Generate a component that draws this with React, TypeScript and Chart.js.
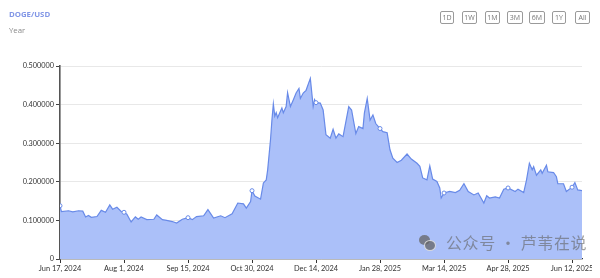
import React, { useEffect, useRef } from "react";
import { Chart, registerables } from "chart.js";

Chart.register(...registerables);

// Days since Jun 17, 2024
const days = [0, 1, 6, 9, 13, 16, 18, 20, 22, 26, 29, 32, 35, 37, 40, 43, 45, 47, 50, 53, 55, 57, 61, 66, 68, 72, 75, 79, 82, 86, 90, 93, 96, 101, 104, 108, 113, 116, 121, 125, 129, 131, 134, 135, 137, 141, 143, 145, 146, 148, 149, 150, 151, 152, 153, 156, 157, 159, 160, 162, 164, 166, 168, 169, 171, 173, 176, 178, 179, 180, 183, 185, 187, 190, 192, 194, 196, 199, 201, 203, 205, 208, 210, 213, 214, 216, 218, 220, 222, 225, 227, 230, 232, 234, 237, 240, 244, 247, 251, 253, 255, 258, 260, 262, 265, 267, 268, 270, 274, 278, 281, 284, 287, 291, 294, 298, 300, 302, 306, 309, 312, 315, 320, 322, 326, 328, 330, 332, 333, 335, 338, 339, 342, 343, 347, 349, 350, 354, 356, 360, 362, 364, 367];

const prices = [0.138, 0.123, 0.125, 0.122, 0.125, 0.124, 0.109, 0.113, 0.108, 0.110, 0.126, 0.121, 0.140, 0.129, 0.134, 0.123, 0.121, 0.116, 0.096, 0.109, 0.103, 0.109, 0.102, 0.103, 0.114, 0.102, 0.100, 0.097, 0.093, 0.103, 0.107, 0.102, 0.110, 0.112, 0.128, 0.106, 0.112, 0.107, 0.117, 0.145, 0.143, 0.132, 0.149, 0.177, 0.163, 0.155, 0.197, 0.205, 0.231, 0.309, 0.360, 0.402, 0.370, 0.379, 0.366, 0.391, 0.379, 0.395, 0.431, 0.395, 0.412, 0.430, 0.442, 0.416, 0.430, 0.437, 0.468, 0.395, 0.413, 0.405, 0.404, 0.386, 0.322, 0.313, 0.336, 0.313, 0.324, 0.317, 0.356, 0.395, 0.386, 0.325, 0.343, 0.338, 0.378, 0.416, 0.360, 0.373, 0.351, 0.338, 0.330, 0.327, 0.283, 0.261, 0.250, 0.256, 0.272, 0.259, 0.248, 0.240, 0.210, 0.205, 0.241, 0.207, 0.201, 0.184, 0.158, 0.171, 0.175, 0.172, 0.178, 0.195, 0.175, 0.166, 0.171, 0.145, 0.164, 0.158, 0.161, 0.158, 0.181, 0.184, 0.175, 0.181, 0.172, 0.205, 0.248, 0.231, 0.239, 0.217, 0.231, 0.222, 0.243, 0.226, 0.224, 0.213, 0.195, 0.195, 0.175, 0.186, 0.198, 0.179, 0.177];

const tickDays = [0, 45, 90, 135, 180, 225, 270, 315, 360];
const yTicks = [0, 0.1, 0.2, 0.3, 0.4, 0.5];
const rangeButtons = ["1D", "1W", "1M", "3M", "6M", "1Y", "All"];
const startDateUTC = Date.UTC(2024, 5, 17);
const monthNames = ["Jan", "Feb", "Mar", "Apr", "May", "Jun", "Jul", "Aug", "Sep", "Oct", "Nov", "Dec"];

function fmtDay(n: number): string {
  const d = new Date(startDateUTC + n * 86400000);
  return `${monthNames[d.getUTCMonth()]} ${d.getUTCDate()}, ${d.getUTCFullYear()}`;
}

const LINE = "rgb(104,138,232)";
const FILL = "rgb(171,192,249)";
const FONT = "Lato";

export default function App() {
  const ref = useRef<HTMLCanvasElement | null>(null);
  useEffect(() => {
    if (!ref.current) return;
    const points = days.map((d, i) => ({ x: d, y: prices[i] }));
    const chart = new Chart(ref.current, {
      type: "line",
      data: {
        datasets: [
          {
            data: points,
            borderColor: LINE,
            borderWidth: 1.2,
            backgroundColor: FILL,
            fill: "origin",
            tension: 0,
            pointRadius: (c: any) => (c.raw && tickDays.includes(c.raw.x) ? 2 : 0),
            pointBackgroundColor: "#ffffff",
            pointBorderColor: LINE,
            pointBorderWidth: 1,
          },
        ],
      },
      options: {
        responsive: false,
        animation: false,
        maintainAspectRatio: false,
        layout: { padding: { left: 0, right: 18, top: 66, bottom: 0 } },
        plugins: { legend: { display: false }, tooltip: { enabled: false } },
        scales: {
          x: {
            type: "linear",
            min: 0,
            max: 367,
            afterFit: (s: any) => {
              s.height = 19;
            },
            afterBuildTicks: (s: any) => {
              s.ticks = tickDays.map((v) => ({ value: v }));
            },
            ticks: {
              autoSkip: false,
              maxRotation: 0,
              minRotation: 0,
              padding: 1,
              color: "#333",
              font: { family: FONT, size: 7.4 },
              callback: (v: any) => fmtDay(Number(v)),
            },
            grid: { drawOnChartArea: false, drawTicks: true, tickLength: 4, tickColor: "#333" },
            border: { display: true, color: "#333", width: 1.2 },
          },
          y: {
            min: 0,
            max: 0.5,
            afterFit: (s: any) => {
              s.width = 60;
            },
            afterBuildTicks: (s: any) => {
              s.ticks = yTicks.map((v) => ({ value: v }));
            },
            ticks: {
              padding: 2,
              color: "#333",
              font: { family: FONT, size: 7.3 },
              callback: (v: any) => (Number(v) === 0 ? "0" : Number(v).toFixed(6)),
            },
            grid: { color: "#e8e8e8", lineWidth: 1, drawTicks: true, tickLength: 4, tickColor: "#444" },
            border: { display: true, color: "#555", width: 1.6 },
          },
        },
      },
    } as any);
    return () => chart.destroy();
  }, []);

  const btnLefts = [440, 462, 485, 507, 529, 552, 575];
  const btnWidths = [14, 15, 15, 16, 16, 14, 15];

  return (
    <div
      style={{
        position: "fixed",
        left: 0,
        top: 0,
        width: 592,
        height: 278,
        overflow: "hidden",
        background: "#fff",
        fontFamily: FONT,
      }}
    >
      <canvas ref={ref} width={600} height={278} style={{ position: "absolute", left: 0, top: 0, width: 600, height: 278 }} />
      <div style={{ position: "absolute", left: 9, top: 9, fontSize: 7.8, fontWeight: 700, color: "#8196e6", fontFamily: "Open Sans" }}>
        DOGE/USD
      </div>
      <div style={{ position: "absolute", left: 9, top: 25, fontSize: 7.8, color: "#8a8a8a", fontFamily: "Open Sans" }}>Year</div>
      {rangeButtons.map((b, i) => (
        <div
          key={b}
          style={{
            position: "absolute",
            left: btnLefts[i],
            top: 11,
            width: btnWidths[i],
            height: 13,
            border: "1px solid #9a9a9a",
            borderRadius: 2,
            boxSizing: "border-box",
            fontSize: 7,
            lineHeight: "11px",
            textAlign: "center",
            color: "#777",
            fontFamily: "Open Sans",
          }}
        >
          {b}
        </div>
      ))}
      <div style={{ position: "absolute", left: 419, top: 235, width: 16, height: 16, pointerEvents: "none" }}>
        <div style={{ position: "absolute", left: 0, top: 0, width: 11, height: 10, borderRadius: "50%", background: "rgba(100,100,100,0.75)" }} />
        <div style={{ position: "absolute", left: 5, top: 5, width: 10, height: 9, borderRadius: "50%", background: "rgba(100,100,100,0.75)", border: "1px solid rgba(255,255,255,0.7)" }} />
      </div>
      <div
        style={{
          position: "absolute",
          left: 446,
          top: 230,
          fontSize: 16,
          letterSpacing: 0.6,
          whiteSpace: "nowrap",
          color: "rgba(100,100,100,0.62)",
          fontFamily: "Noto Sans CJK SC",
          pointerEvents: "none",
        }}
      >
        公众号 · 芦苇在说
      </div>
    </div>
  );
}
